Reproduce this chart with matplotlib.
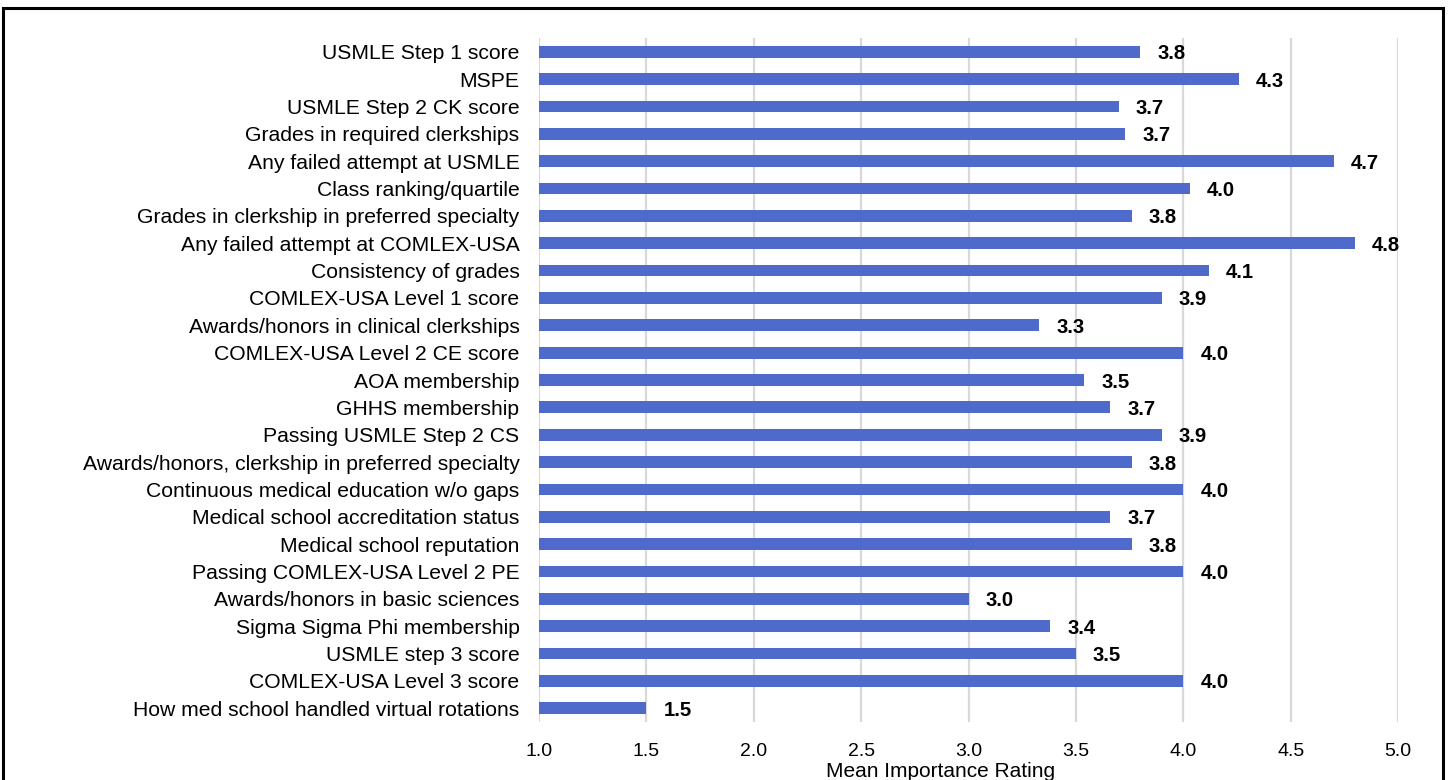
import matplotlib
matplotlib.use('Agg')
import matplotlib.pyplot as plt
from matplotlib.patches import Rectangle

plt.rcParams['font.family'] = ['Liberation Sans', 'DejaVu Sans']

# Mean importance rating per factor (top to bottom as in the chart)
factors = [
    'USMLE Step 1 score',
    'MSPE',
    'USMLE Step 2 CK score',
    'Grades in required clerkships',
    'Any failed attempt at USMLE',
    'Class ranking/quartile',
    'Grades in clerkship in preferred specialty',
    'Any failed attempt at COMLEX-USA',
    'Consistency of grades',
    'COMLEX-USA Level 1 score',
    'Awards/honors in clinical clerkships',
    'COMLEX-USA Level 2 CE score',
    'AOA membership',
    'GHHS membership',
    'Passing USMLE Step 2 CS',
    'Awards/honors, clerkship in preferred specialty',
    'Continuous medical education w/o gaps',
    'Medical school accreditation status',
    'Medical school reputation',
    'Passing COMLEX-USA Level 2 PE',
    'Awards/honors in basic sciences',
    'Sigma Sigma Phi membership',
    'USMLE step 3 score',
    'COMLEX-USA Level 3 score',
    'How med school handled virtual rotations',
]
ratings = [3.80, 4.26, 3.70, 3.73, 4.70, 4.03, 3.76, 4.80, 4.12, 3.90,
           3.33, 4.00, 3.54, 3.66, 3.90, 3.76, 4.00, 3.66, 3.76, 4.00,
           3.00, 3.38, 3.50, 4.00, 1.50]
xticks = [1.0, 1.5, 2.0, 2.5, 3.0, 3.5, 4.0, 4.5, 5.0]

W, H = 1450, 780
fig = plt.figure(figsize=(W / 100, H / 100), dpi=100)
ax = fig.add_axes([539 / W, 1 - 722 / H, (1398 - 539) / W, (722 - 38) / H])

pos = list(range(len(factors)))
ax.barh(pos, [r - 1.0 for r in ratings], left=1.0, height=0.43,
        color='#4E6BCB', zorder=3)

for y, r in zip(pos, ratings):
    ax.annotate(f'{r:.1f}', xy=(r, y), xytext=(17, -2), textcoords='offset pixels',
                ha='left', va='center', fontsize=14.6, fontweight='bold',
                color='black')

ax.set_xlim(1.0, 5.0)
ax.set_ylim(len(factors) - 0.5, -0.5)
ax.set_yticks(pos)
ax.set_yticklabels(factors, fontsize=15.2)
ax.set_xticks(xticks)
ax.set_xticklabels([f'{t:.1f}' for t in xticks], fontsize=14)
ax.tick_params(axis='y', length=0, pad=14)
ax.tick_params(axis='x', length=0, pad=15)
ax.grid(axis='x', color='#D9D9D9', linewidth=1.6, zorder=0)
for s in ax.spines.values():
    s.set_visible(False)

ax.set_xlabel('Mean Importance Rating', fontsize=15)
ax.xaxis.set_label_coords(0.467, -0.058)

# outer chart border
fig.patches.append(Rectangle((3 / W, -0.05), (1443 - 3) / W, 1 - 8 / H + 0.05,
                             transform=fig.transFigure, fill=False,
                             edgecolor='black', linewidth=2.2))

fig.savefig('out.png', dpi=100)
